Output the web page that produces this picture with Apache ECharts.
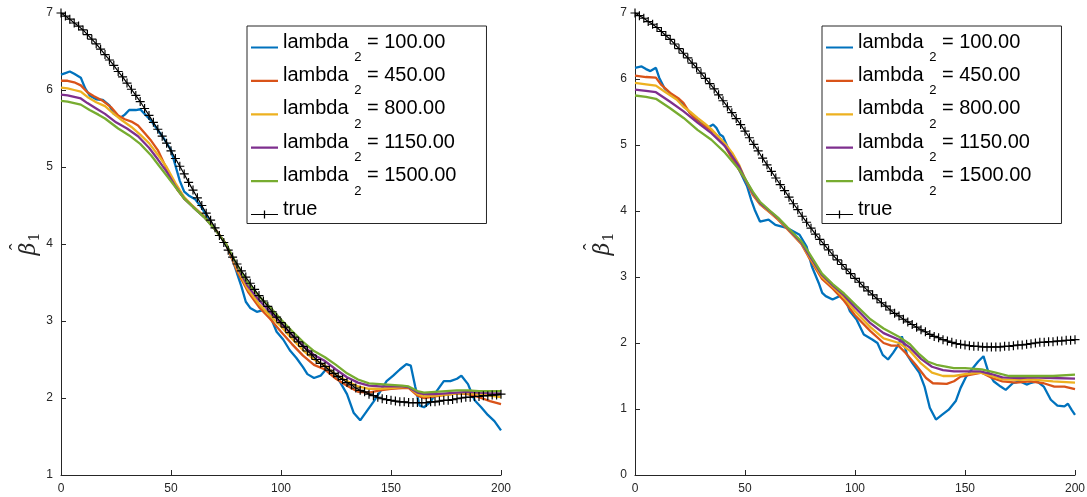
<!DOCTYPE html>
<html>
<head>
<meta charset="utf-8">
<script src="https://cdn.jsdelivr.net/npm/echarts@6/dist/echarts.min.js"></script>
<style>html,body{margin:0;padding:0;background:#fff}#c{width:1087px;height:497px}</style>
</head>
<body>
<div id="c"></div>
<script>
// ---- data ----
const lambdaLabels = ['100.00', '450.00', '800.00', '1150.00', '1500.00'];
const colors = ['#0072BD', '#D95319', '#EDB120', '#7E2F8E', '#77AC30'];
const xTicks = [0, 50, 100, 150, 200];

// true beta_1 (same in both panels), sampled every 2 units
const trueX0 = 0, trueStep = 2;
const trueBeta = [7.00,6.96,6.92,6.87,6.83,6.78,6.72,6.66,6.60,6.53,6.46,6.39,6.32,6.24,6.17,6.09,6.01,5.93,5.85,5.76,
5.67,5.58,5.49,5.40,5.31,5.21,5.11,5.01,4.91,4.80,4.70,4.60,4.50,4.40,4.31,4.21,4.11,4.02,3.92,3.83,
3.74,3.65,3.57,3.49,3.41,3.33,3.26,3.19,3.12,3.05,2.98,2.92,2.85,2.79,2.73,2.67,2.61,2.56,2.50,2.45,
2.41,2.36,2.32,2.28,2.24,2.20,2.17,2.13,2.10,2.08,2.05,2.03,2.01,1.99,1.98,1.97,1.96,1.95,1.95,1.94,
1.94,1.94,1.94,1.94,1.95,1.95,1.96,1.97,1.97,1.98,1.99,2.00,2.01,2.01,2.02,2.02,2.03,2.03,2.04,2.04,2.05];

// left panel estimates
const L100 = [[0,6.20],[2,6.22],[4,6.24],[6,6.21],[9,6.16],[11,6.02],[13,5.93],[16,5.88],[19,5.87],[22,5.80],[24,5.69],[27,5.64],[29,5.68],[31,5.74],[34,5.74],[36,5.75],[38,5.69],[41,5.60],[44,5.48],[47,5.36],[50,5.22],[52,5.02],[54,4.82],[56,4.68],[58,4.63],[61,4.58],[64,4.47],[67,4.33],[70,4.20],[73,4.08],[76,3.94],[78.5,3.75],[80,3.62],[82,3.45],[84,3.25],[86,3.17],[89,3.12],[92,3.14],[94,3.13],[96,3.00],[98,2.86],[101,2.76],[104,2.62],[107,2.52],[110,2.40],[112,2.31],[115,2.26],[118,2.29],[121,2.39],[124,2.33],[127,2.20],[130,2.05],[133,1.81],[136,1.71],[139,1.83],[142,1.95],[145,2.08],[148,2.22],[151,2.29],[154,2.37],[157,2.44],[159,2.42],[161,2.15],[163,1.90],[165,1.88],[168,1.95],[171,2.10],[174,2.22],[177,2.22],[180,2.25],[182,2.29],[185,2.18],[188,1.97],[191,1.88],[194,1.78],[197,1.70],[200,1.58]];
const L450 = [[0,6.12],[3,6.12],[6,6.10],[9,6.06],[12,5.97],[15,5.92],[19,5.86],[23,5.77],[26,5.67],[29,5.62],[32,5.59],[35,5.54],[38,5.44],[41,5.34],[44,5.22],[47,5.04],[50,4.86],[53,4.70],[56,4.59],[60,4.49],[65,4.36],[70,4.20],[75,4.00],[80,3.65],[85,3.38],[90,3.18],[95,3.03],[100,2.86],[105,2.70],[110,2.55],[115,2.43],[120,2.37],[125,2.25],[130,2.16],[135,2.08],[140,2.07],[145,2.10],[150,2.12],[155,2.13],[158,2.13],[162,2.03],[165,2.00],[170,2.02],[175,2.04],[180,2.06],[185,2.05],[190,2.01],[195,1.96],[200,1.92]];
const L800 = [[0,6.03],[3,6.02],[6,6.00],[9,5.98],[12,5.91],[16,5.84],[20,5.79],[24,5.69],[28,5.60],[32,5.52],[36,5.42],[40,5.31],[44,5.16],[48,5.00],[52,4.79],[56,4.61],[60,4.49],[65,4.36],[70,4.19],[75,4.00],[80,3.68],[85,3.41],[90,3.22],[95,3.07],[100,2.93],[105,2.77],[110,2.62],[115,2.50],[120,2.42],[125,2.30],[130,2.22],[135,2.15],[140,2.12],[145,2.12],[150,2.13],[155,2.14],[158,2.14],[162,2.05],[165,2.02],[170,2.03],[175,2.04],[180,2.06],[185,2.06],[190,2.05],[195,2.03],[200,2.01]];
const L1150 = [[0,5.94],[3,5.93],[6,5.91],[9,5.89],[12,5.83],[16,5.76],[20,5.69],[25,5.58],[30,5.50],[35,5.40],[40,5.25],[44,5.10],[48,4.94],[52,4.75],[56,4.59],[60,4.48],[65,4.35],[70,4.19],[75,4.00],[80,3.71],[85,3.45],[90,3.27],[95,3.12],[100,2.97],[105,2.82],[110,2.68],[115,2.56],[120,2.48],[125,2.37],[130,2.27],[135,2.20],[140,2.16],[145,2.15],[150,2.15],[155,2.15],[158,2.14],[162,2.07],[165,2.05],[170,2.05],[175,2.06],[180,2.07],[185,2.08],[190,2.07],[195,2.06],[200,2.06]];
const L1500 = [[0,5.86],[3,5.85],[6,5.83],[9,5.81],[13,5.74],[17,5.68],[20,5.63],[26,5.50],[31,5.41],[36,5.30],[41,5.15],[45,5.00],[48,4.89],[52,4.74],[56,4.59],[60,4.48],[65,4.35],[70,4.19],[75,4.00],[80,3.73],[85,3.49],[90,3.32],[95,3.18],[100,3.02],[105,2.87],[110,2.73],[115,2.61],[120,2.53],[125,2.43],[130,2.32],[135,2.24],[140,2.19],[145,2.18],[150,2.17],[155,2.16],[158,2.15],[162,2.09],[165,2.07],[170,2.08],[175,2.09],[180,2.10],[185,2.10],[190,2.09],[195,2.09],[200,2.09]];

// right panel estimates
const R100 = [[0,6.17],[3,6.19],[5,6.15],[7,6.12],[9.5,6.17],[11,6.02],[13.4,5.86],[17.4,5.74],[19.7,5.69],[23.7,5.54],[26.8,5.43],[30,5.33],[33,5.26],[35.5,5.31],[37,5.26],[38.6,5.16],[40,5.13],[42.6,4.93],[45,4.78],[48,4.58],[51,4.37],[52.8,4.17],[54.4,4.02],[56.8,3.84],[60.7,3.87],[63.8,3.79],[69.4,3.74],[74.8,3.64],[78,3.46],[80.4,3.16],[83.5,2.91],[85.1,2.76],[86.7,2.71],[89.8,2.66],[93,2.71],[94.5,2.76],[97.7,2.48],[100.8,2.35],[104,2.13],[108,2.05],[110.2,2.00],[112.6,1.82],[115,1.75],[117.3,1.85],[119.7,1.97],[121.3,2.10],[123.7,1.82],[126,1.70],[129.2,1.55],[131.6,1.34],[134,1.02],[136.8,0.84],[139.5,0.91],[142.6,0.99],[145.8,1.12],[148,1.32],[150.5,1.49],[153.6,1.62],[156,1.72],[158.4,1.80],[160.7,1.55],[163,1.42],[166.2,1.34],[168.5,1.29],[171.7,1.39],[174.8,1.42],[178,1.37],[179.6,1.39],[182.7,1.42],[185.8,1.34],[189,1.14],[192,1.05],[195.2,1.04],[196.8,1.08],[198.4,0.99],[200,0.91]];
const R450 = [[0,6.05],[5,6.03],[9.5,6.02],[12,5.91],[16,5.79],[20,5.70],[22,5.64],[25,5.48],[29,5.34],[33,5.26],[36,5.19],[39.4,5.07],[43.4,4.84],[48,4.59],[50.4,4.46],[53.6,4.24],[56.8,4.10],[61.5,3.97],[65,3.87],[69.4,3.72],[75.6,3.50],[78.8,3.31],[85,2.97],[90,2.82],[95,2.64],[100,2.42],[107,2.18],[113,2.00],[116.5,1.96],[119.7,1.96],[123,1.85],[127.6,1.67],[132.3,1.47],[135.4,1.39],[141.7,1.38],[145,1.42],[148,1.49],[152.8,1.52],[157.6,1.55],[162.3,1.47],[167,1.42],[173.3,1.40],[179.6,1.42],[185.8,1.39],[190.6,1.34],[195.2,1.34],[200,1.30]];
const R800 = [[0,5.94],[5,5.92],[9.5,5.90],[13.4,5.81],[18.9,5.69],[22,5.58],[25.2,5.50],[28.4,5.41],[31.5,5.33],[34.7,5.24],[37.8,5.13],[41,5.02],[44.2,4.88],[47.3,4.70],[50.4,4.46],[53.6,4.26],[56.8,4.11],[61.5,3.98],[65,3.88],[69.4,3.73],[75.6,3.51],[78.8,3.33],[85,3.00],[90,2.85],[95,2.69],[100,2.48],[107,2.24],[113,2.07],[120,2.00],[125,1.88],[130,1.69],[135,1.55],[140,1.50],[145,1.50],[150,1.53],[157,1.55],[162,1.50],[167,1.45],[175,1.44],[180,1.45],[190,1.42],[200,1.40]];
const R1150 = [[0,5.84],[5,5.82],[9.5,5.80],[15.8,5.66],[22.1,5.51],[28.4,5.34],[34.7,5.18],[41,4.98],[47.3,4.68],[50.4,4.46],[53.6,4.27],[56.8,4.12],[61.5,3.99],[65,3.89],[69.4,3.74],[75.6,3.52],[78.8,3.35],[85,3.03],[90,2.87],[95,2.72],[100,2.54],[107,2.30],[113,2.15],[120,2.05],[125,1.93],[130,1.76],[135,1.64],[140,1.59],[145,1.57],[150,1.57],[157,1.57],[162,1.53],[167,1.48],[175,1.47],[180,1.48],[190,1.47],[200,1.46]];
const R1500 = [[0,5.75],[5,5.73],[9.5,5.70],[15.8,5.56],[22.1,5.41],[28.4,5.23],[34.7,5.08],[41,4.88],[47.3,4.63],[50.4,4.47],[53.6,4.29],[56.8,4.14],[61.5,4.00],[65,3.90],[69.4,3.75],[75.6,3.54],[78.8,3.38],[85,3.05],[90,2.89],[95,2.75],[100.8,2.56],[107,2.36],[113,2.22],[119.7,2.10],[125,1.98],[129.2,1.83],[133,1.72],[137,1.67],[144.9,1.62],[150,1.62],[157.6,1.60],[163.9,1.55],[170,1.50],[180,1.50],[190,1.50],[200,1.52]];

const leftSets = [L100, L450, L800, L1150, L1500];
const rightSets = [R100, R450, R800, R1150, R1500];

// ---- chart ----
const names = lambdaLabels.map(v => 'lambda_2 = ' + v);
const trueName = 'true';
const truePairs = trueBeta.map((v, i) => [trueX0 + i * trueStep, v]);
const plusPath = 'path://M4.35,0h1.3v4.35h4.35v1.3h-4.35v4.35h-1.3v-4.35h-4.35v-1.3h4.35z';
// legend icons: bbox 30x10 (tiny corner dots fix the box)
const lineIcon = 'path://M0,0h0.01v0.01h-0.01zM0,3.9h30v2.2h-30zM29.99,9.99h0.01v0.01h-0.01z';
const trueIcon = 'path://M0,0h0.01v0.01h-0.01zM0,4.5h30v1h-30zM14.3,1h1.4v8h-1.4zM29.99,9.99h0.01v0.01h-0.01z';

const font = 'Liberation Sans';
const axisColor = '#262626';

function xAxis(i) {
  return {type: 'value', gridIndex: i, min: 0, max: 200, interval: 50,
    axisLine: {show: true, lineStyle: {color: axisColor, width: 1}},
    axisTick: {show: true, inside: true, length: 5, lineStyle: {color: axisColor}},
    axisLabel: {color: axisColor, fontSize: 12, fontFamily: font, margin: 8},
    splitLine: {show: false}};
}
function yAxis(i, mn) {
  return {type: 'value', gridIndex: i, min: mn, max: 7, interval: 1,
    axisLine: {show: true, lineStyle: {color: axisColor, width: 1}},
    axisTick: {show: true, inside: true, length: 5, lineStyle: {color: axisColor}},
    axisLabel: {color: axisColor, fontSize: 12, fontFamily: font, margin: 8},
    splitLine: {show: false},
    name: '{h|\u02C6}\n{b|\u03B2}{s|1}', nameLocation: 'middle', nameRotate: 90, nameGap: 22,
    nameTextStyle: {align: 'center', fontSize: 1, lineHeight: 1, rich: {
      h: {fontFamily: 'Liberation Serif', fontSize: 20, color: '#262626', lineHeight: 1, padding: [0, 6, 0, 0]},
      b: {fontFamily: 'DejaVu Serif', fontStyle: 'italic', fontSize: 22, color: '#262626', lineHeight: 20},
      s: {fontFamily: 'DejaVu Serif', fontSize: 14, color: '#262626', padding: [12, 0, 0, 1]}
    }}};
}

const series = [];
[leftSets, rightSets].forEach((sets, gi) => {
  sets.forEach((d, k) => {
    series.push({type: 'line', name: names[k], xAxisIndex: gi, yAxisIndex: gi, data: d,
      symbol: 'none', smooth: false, lineStyle: {color: colors[k], width: 2.3}, itemStyle: {color: colors[k]},
      emphasis: {disabled: true}, animation: false});
  });
  series.push({type: 'line', name: trueName, xAxisIndex: gi, yAxisIndex: gi, data: truePairs,
    symbol: plusPath, symbolSize: 9, showSymbol: true, showAllSymbol: true,
    lineStyle: {color: '#000', width: 1.2}, itemStyle: {color: '#000'},
    emphasis: {disabled: true}, animation: false});
});

function legend(left) {
  const data = names.map(n => ({name: n, icon: lineIcon})).concat([{name: trueName, icon: trueIcon}]);
  return {left: left, top: 26, orient: 'vertical', data: data,
    itemWidth: 27, itemHeight: 10, itemGap: 0.4, symbolKeepAspect: false,
    padding: [5, 30, -7.5, 4], backgroundColor: '#fff', borderColor: '#262626', borderWidth: 1,
    selectedMode: false,
    formatter: function (n) {
      if (n === trueName) return '{m|true}{s| }';
      return '{m|lambda }{s|2}{m| = ' + n.split('= ')[1] + '}';
    },
    textStyle: {rich: {
      m: {fontFamily: font, fontSize: 20, color: '#000', lineHeight: 31, verticalAlign: 'top'},
      s: {fontFamily: font, fontSize: 13, color: '#000', lineHeight: 14, padding: [20, 0, 0, 0]}
    }}};
}

const chart = echarts.init(document.getElementById('c'), null, {renderer: 'canvas'});
chart.setOption({
  animation: false,
  backgroundColor: '#fff',
  grid: [
    {left: 61, top: 13, width: 440, height: 462, containLabel: false, outerBoundsMode: 'none'},
    {left: 635, top: 13, width: 440, height: 462, containLabel: false, outerBoundsMode: 'none'}
  ],
  xAxis: [xAxis(0), xAxis(1)],
  yAxis: [yAxis(0, 1), yAxis(1, 0)],
  legend: [legend(247), legend(822)],
  series: series
});
</script>
</body>
</html>
